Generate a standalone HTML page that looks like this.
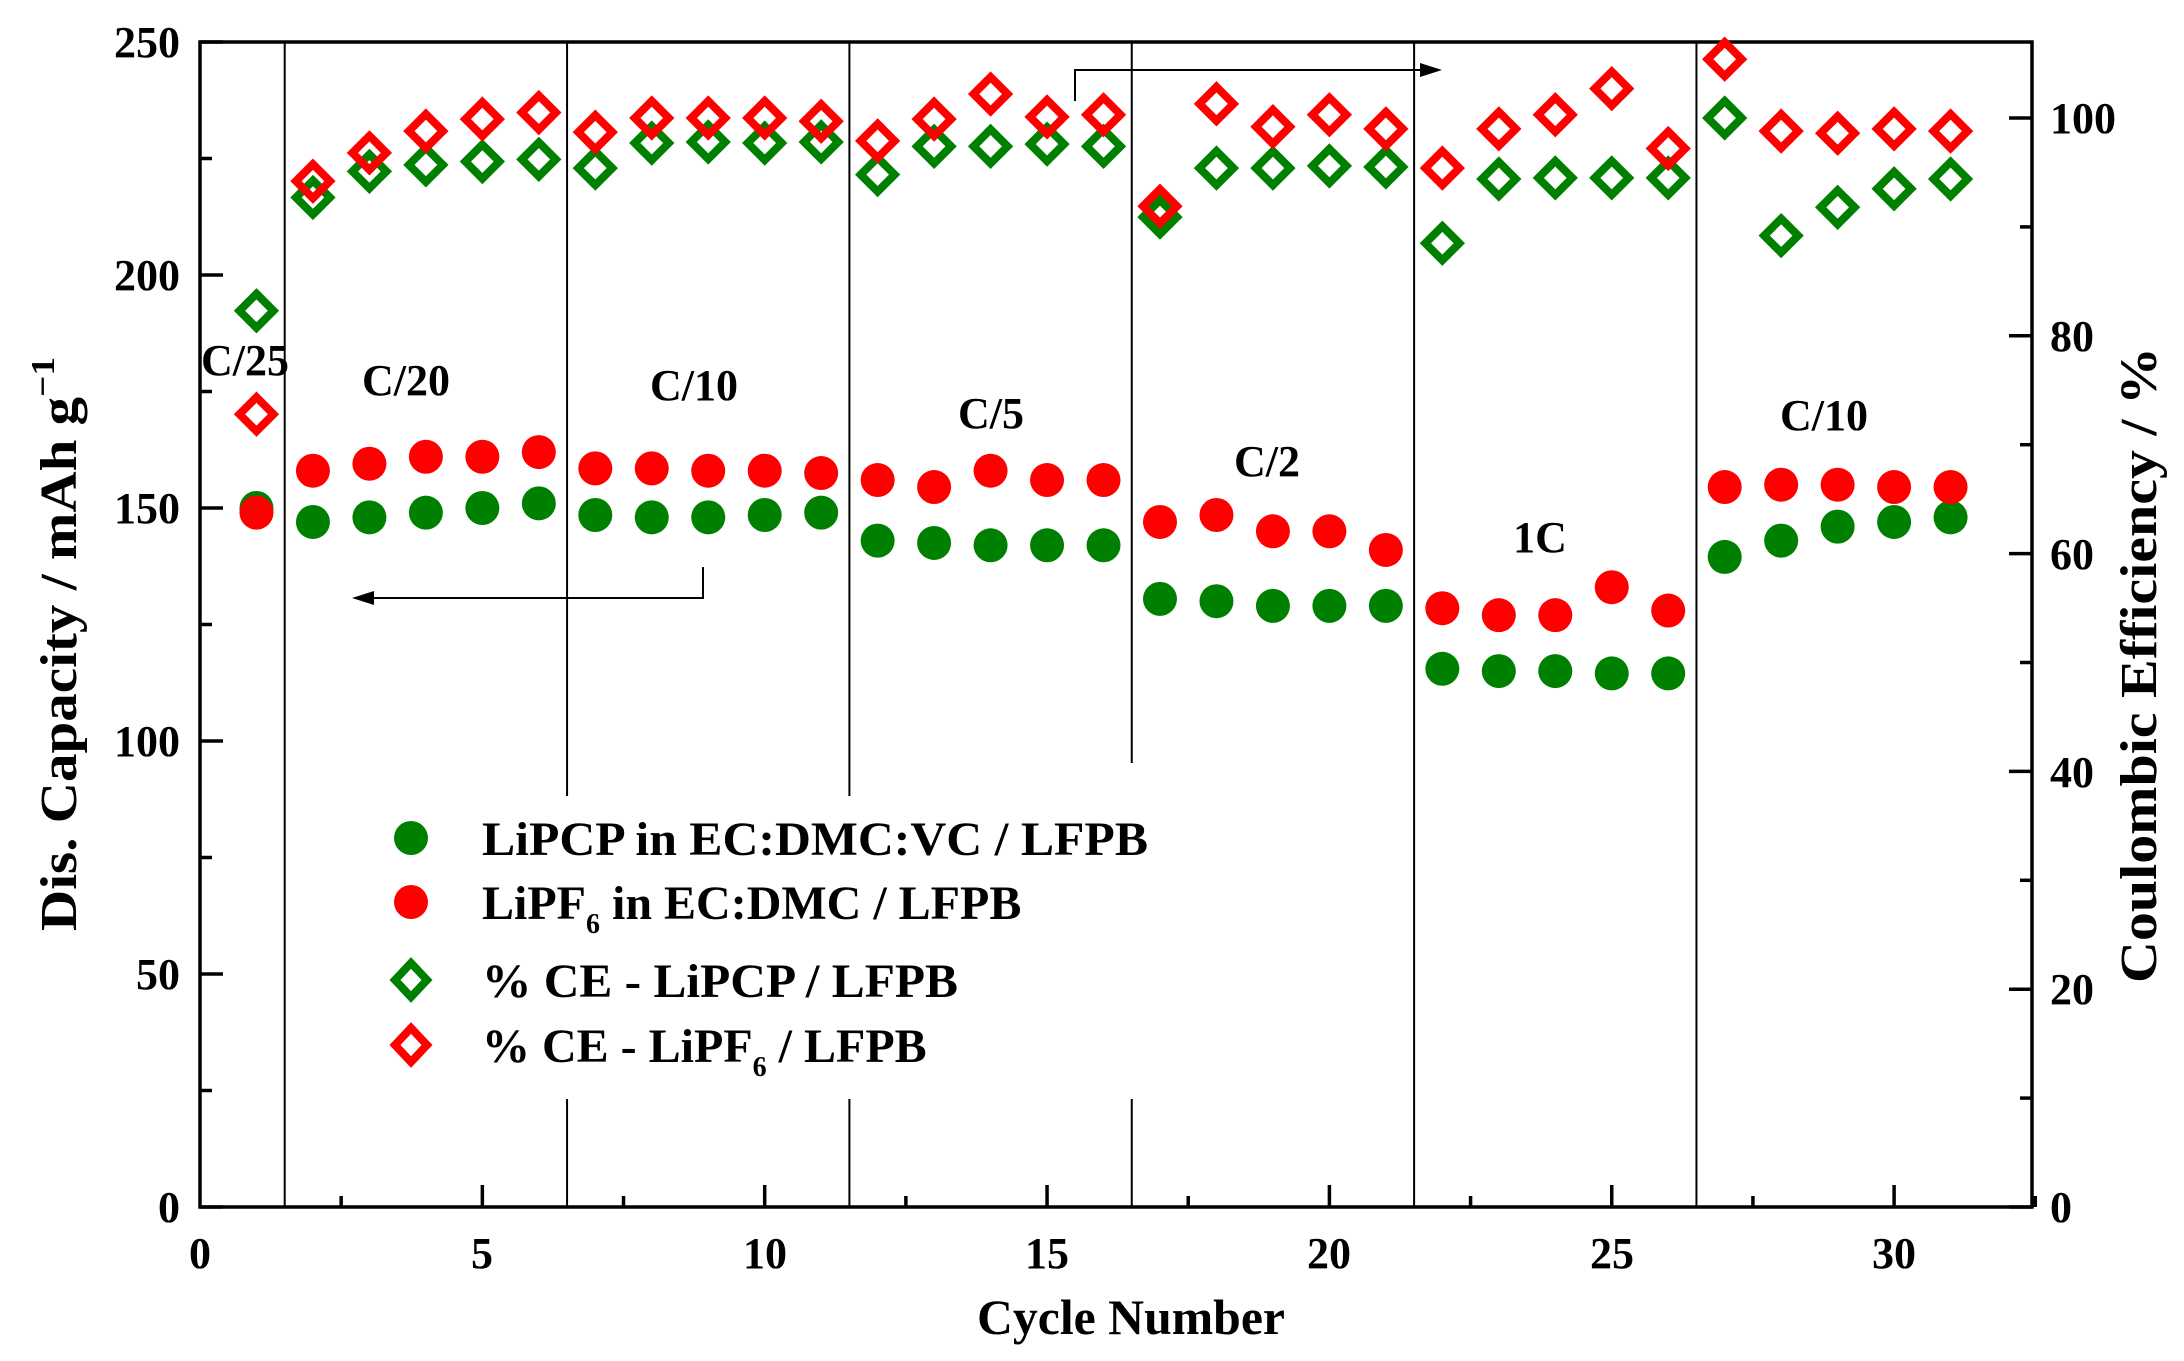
<!DOCTYPE html>
<html><head><meta charset="utf-8"><style>
html,body{margin:0;padding:0;background:#fff;}
svg{display:block;}
text{font-family:"Liberation Serif",serif;font-weight:bold;fill:#000;}
</style></head><body>
<svg id="s" width="2184" height="1361" viewBox="0 0 2184 1361" xmlns="http://www.w3.org/2000/svg">
<g id="dividers" stroke="#000" stroke-width="2"></g>
<g id="ticks" stroke="#000" stroke-width="3.5"></g>
<rect x="200" y="42" width="1832" height="1165" fill="none" stroke="#000" stroke-width="3.5"/>
<g id="pts"></g>
<!-- tick labels -->
<g font-size="44" text-anchor="middle">
<text x="200" y="1268">0</text><text x="482" y="1268">5</text><text x="765" y="1268">10</text>
<text x="1047" y="1268">15</text><text x="1329" y="1268">20</text><text x="1612" y="1268">25</text><text x="1894" y="1268">30</text>
</g>
<g font-size="44" text-anchor="end">
<text x="180" y="1222">0</text><text x="180" y="989">50</text><text x="180" y="756">100</text>
<text x="180" y="523">150</text><text x="180" y="290">200</text><text x="180" y="57">250</text>
</g>
<g font-size="44" text-anchor="start">
<text x="2050" y="1222">0</text><text x="2050" y="1004">20</text><text x="2050" y="787">40</text>
<text x="2050" y="569">60</text><text x="2050" y="351">80</text><text x="2050" y="133">100</text>
</g>
<text x="1131" y="1334" font-size="50" text-anchor="middle" textLength="308" lengthAdjust="spacingAndGlyphs">Cycle Number</text>
<text transform="translate(76,644) rotate(-90)" font-size="52" text-anchor="middle" textLength="574" lengthAdjust="spacingAndGlyphs">Dis. Capacity / mAh g<tspan font-size="34" dy="-22">−1</tspan></text>
<text transform="translate(2156,665) rotate(-90)" font-size="52" text-anchor="middle" textLength="636" lengthAdjust="spacingAndGlyphs">Coulombic Efficiency / %</text>
<!-- rate labels -->
<g font-size="44" text-anchor="middle">
<text x="245" y="375">C/25</text><text x="406" y="395">C/20</text><text x="694" y="400">C/10</text>
<text x="991" y="428">C/5</text><text x="1267" y="476">C/2</text><text x="1540" y="552">1C</text><text x="1824" y="430">C/10</text>
</g>
<!-- arrows -->
<g stroke="#000" stroke-width="2" fill="none">
<polyline points="703,567 703,598 370,598"/>
<polyline points="1075,101 1075,70 1425,70"/>
</g>
<polygon points="352,598 374,591 374,605" fill="#000"/>
<polygon points="1442,70 1420,63 1420,77" fill="#000"/>
<!-- legend -->
<g id="leg"></g>
<g font-size="48">
<text x="482" y="855" textLength="666" lengthAdjust="spacingAndGlyphs">LiPCP in EC:DMC:VC / LFPB</text>
<text x="482" y="919">LiPF<tspan font-size="28" dy="14">6</tspan><tspan dy="-14"> in EC:DMC / LFPB</tspan></text>
<text x="482" y="997" textLength="476" lengthAdjust="spacingAndGlyphs">% CE - LiPCP / LFPB</text>
<text x="482" y="1062">% CE - LiPF<tspan font-size="28" dy="14">6</tspan><tspan dy="-14"> / LFPB</tspan></text>
</g>
</svg>
<script>
const NS="http://www.w3.org/2000/svg";
const X=c=>200+c*56.47, YC=v=>1207-v*4.66, YE=p=>1207-p*10.89;
function el(t,a,p){const e=document.createElementNS(NS,t);for(const k in a)e.setAttribute(k,a[k]);document.getElementById(p).appendChild(e);return e;}
const divs=[[1.5,[[42,1207]]],[6.5,[[42,796],[1099,1207]]],[11.5,[[42,796],[1099,1207]]],[16.5,[[42,763],[1099,1207]]],[21.5,[[42,1207]]],[26.5,[[42,1207]]]];
divs.forEach(([c,segs])=>segs.forEach(([a,b])=>el('line',{x1:X(c),x2:X(c),y1:a,y2:b},'dividers')));
for(let v=0;v<=250;v+=25){const y=YC(v),L=v%50==0?23:12;el('line',{x1:200,x2:200+L,y1:y,y2:y},'ticks');}
for(let p=0;p<=100;p+=10){const y=YE(p),L=p%20==0?23:12;el('line',{x1:2032,x2:2032-L,y1:y,y2:y},'ticks');}
for(let c=2.5;c<=32.5;c+=2.5){const x=X(c),L=(c%5==0)?22:11;el('line',{x1:x,x2:x,y1:1207,y2:1207-L},'ticks');}
const gC=[150,147,148,149,150,151,148.5,148,148,148.5,149,143,142.5,142,142,142,130.5,130,129,129,129,115.5,115,115,114.5,114.5,139.5,143,146,147,148];
const rC=[149,158,159.5,161,161,162,158.5,158.5,158,158,157.5,156,154.5,158,156,156,147,148.5,145,145,141,128.5,127,127,133,128,154.5,155,155,154.5,154.5];
const gE=[82.3,92.7,95.1,95.7,96,96.2,95.4,97.7,97.8,97.7,97.8,94.8,97.4,97.4,97.6,97.4,90.9,95.4,95.4,95.6,95.5,88.5,94.4,94.5,94.5,94.5,100,89.2,91.8,93.5,94.4];
const rE=[72.8,94.2,96.8,98.8,99.9,100.5,98.7,100,100,100,99.7,97.9,99.9,102.2,100.1,100.3,91.9,101.3,99.2,100.3,99,95.4,99,100.3,102.7,97.2,105.4,98.8,98.6,99,98.8];
const G="#008000",R="#ff0000";
function dia(x,y,col,p,w,h){el('polygon',{points:`${x},${y-h} ${x+w},${y} ${x},${y+h} ${x-w},${y}`,fill:'none',stroke:col,'stroke-width':8,'stroke-linejoin':'miter'},p);}
gE.forEach((v,i)=>dia(X(i+1),YE(v),G,'pts',17,17));
rE.forEach((v,i)=>dia(X(i+1),YE(v),R,'pts',17,17));
gC.forEach((v,i)=>el('ellipse',{cx:X(i+1),cy:YC(v),rx:17,ry:17,fill:G},'pts'));
rC.forEach((v,i)=>el('ellipse',{cx:X(i+1),cy:YC(v),rx:17,ry:17,fill:R},'pts'));
el('ellipse',{cx:411,cy:838,rx:17,ry:17,fill:G},'leg');
el('ellipse',{cx:411,cy:902,rx:17,ry:17,fill:R},'leg');
dia(411,980,G,'leg',16,17);dia(411,1045,R,'leg',16,17);
</script>
</body></html>
